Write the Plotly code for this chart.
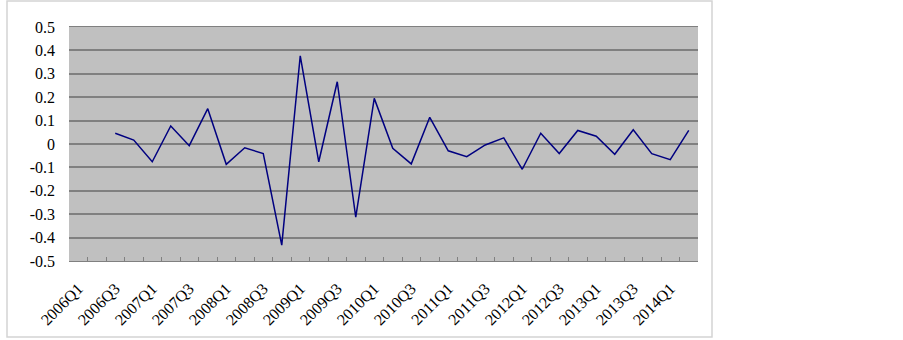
import plotly.graph_objects as go

# All quarters on the category axis (2006Q1 .. 2014Q2)
quarters = [f"{y}Q{q}" for y in range(2006, 2015) for q in range(1, 5)][:34]

# Series (starts 2006Q3)
series_quarters = quarters[2:]
values = [0.046, 0.017, -0.076, 0.077, -0.007, 0.151, -0.087, -0.016,
          -0.041, -0.432, 0.377, -0.076, 0.266, -0.313, 0.195, -0.018,
          -0.085, 0.114, -0.029, -0.054, -0.004, 0.026, -0.108, 0.046,
          -0.041, 0.058, 0.033, -0.044, 0.061, -0.041, -0.067, 0.058]

# Tick labels: every second quarter
x_tick_text = [q if i % 2 == 0 else "" for i, q in enumerate(quarters)]
y_tick_vals = [0.5, 0.4, 0.3, 0.2, 0.1, 0, -0.1, -0.2, -0.3, -0.4, -0.5]
y_tick_text = ["0.5", "0.4", "0.3", "0.2", "0.1", "0", "-0.1", "-0.2", "-0.3", "-0.4", "-0.5"]

fig = go.Figure()
fig.add_trace(go.Scatter(
    x=series_quarters, y=values, mode="lines",
    line=dict(color="#000080", width=1.5),
    showlegend=False, hoverinfo="x+y",
))

font = dict(family="Liberation Serif, Times New Roman, serif", size=16, color="#000000")

fig.update_layout(
    width=903, height=340,
    margin=dict(l=69, r=205, t=27, b=79, autoexpand=False),
    paper_bgcolor="white",
    plot_bgcolor="#C0C0C0",
    font=font,
    xaxis=dict(
        type="category",
        categoryorder="array", categoryarray=quarters,
        range=[-0.5, len(quarters) - 0.5],
        tickmode="array", tickvals=quarters, ticktext=x_tick_text,
        tickangle=-45,
        tickson="boundaries",
        ticks="inside", ticklen=4, tickcolor="#808080", tickwidth=1,
        showgrid=False,
        showline=True, linecolor="#808080", linewidth=1, mirror=True,
        ticklabelstandoff=11,
        tickfont=font,
        automargin=False,
        fixedrange=True,
    ),
    yaxis=dict(
        range=[-0.5, 0.5],
        tickmode="array", tickvals=y_tick_vals, ticktext=y_tick_text,
        showgrid=True, gridcolor="#808080", gridwidth=1.5,
        zeroline=True, zerolinecolor="#808080", zerolinewidth=1.5,
        showline=False,
        ticks="",
        ticklabelstandoff=13,
        tickfont=font,
        automargin=False,
        fixedrange=True,
    ),
    shapes=[dict(
        type="rect", xref="paper", yref="paper",
        x0=(7 - 69) / 629, x1=(712 - 69) / 629,
        y0=(261 - 337) / 234, y1=(261 - 1) / 234,
        line=dict(color="#D4D4D4", width=1.5),
        fillcolor="rgba(0,0,0,0)", layer="below",
    )],
)

fig.write_html("out.html", config={"displayModeBar": False},
               post_script="document.body.style.margin='0';")
